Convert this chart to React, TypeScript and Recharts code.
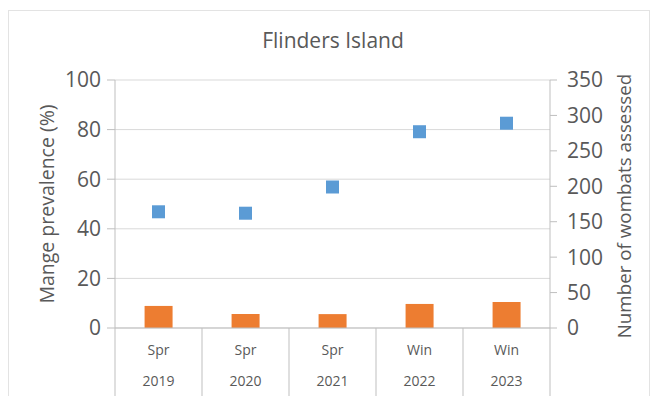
import React from 'react';
import { ComposedChart, Bar, Scatter, XAxis, YAxis, CartesianGrid } from 'recharts';

const seasons = ['Spr', 'Spr', 'Spr', 'Win', 'Win'];
const years = ['2019', '2020', '2021', '2022', '2023'];
const prevalence = [8.9, 5.6, 5.6, 9.7, 10.5];
const assessed = [164, 162, 199, 277, 289];
const leftTicks = [0, 20, 40, 60, 80, 100];
const rightTicks = [0, 50, 100, 150, 200, 250, 300, 350];

const data = years.map((year, i) => ({
  key: `${seasons[i]} ${year}`,
  season: seasons[i],
  year,
  prevalence: prevalence[i],
  assessed: assessed[i],
}));

const FONT = '"Open Sans", "Noto Sans", sans-serif';
const TEXT = '#595959';
const AXIS = '#bfbfbf';

const CategoryTick = (props: any) => {
  const { x, y, payload, index, width, visibleTicksCount } = props;
  const band = width / visibleTicksCount;
  const row = data[index];
  return (
    <g>
      <line x1={x - band / 2} y1={y} x2={x - band / 2} y2={y + 68} stroke={AXIS} />
      {index === visibleTicksCount - 1 && (
        <line x1={x + band / 2} y1={y} x2={x + band / 2} y2={y + 68} stroke={AXIS} />
      )}
      <text x={x} y={y + 27} textAnchor="middle" fill={TEXT} fontSize={14} fontFamily={FONT}>
        {row ? row.season : payload.value}
      </text>
      <text x={x} y={y + 58} textAnchor="middle" fill={TEXT} fontSize={14} fontFamily={FONT}>
        {row ? row.year : ''}
      </text>
    </g>
  );
};

const SquareDot = (props: any) => {
  const { cx, cy } = props;
  const s = 13;
  return <rect x={cx - s / 2} y={cy - s / 2} width={s} height={s} fill="#5b9bd5" />;
};

export default function App() {
  return (
    <div style={{ position: 'absolute', left: 0, top: 0, width: 654, height: 396, background: '#fff' }}>
      <div
        style={{
          position: 'absolute',
          left: 8,
          top: 10,
          width: 642,
          height: 400,
          border: '1px solid #e3e3e3',
          boxSizing: 'border-box',
        }}
      />
      <div style={{ position: 'absolute', left: 0, top: 0 }}>
        <ComposedChart
          width={654}
          height={396}
          data={data}
          margin={{ top: 80, right: 0, bottom: 0, left: 0 }}
          barCategoryGap="34%"
        >
          <CartesianGrid vertical={false} stroke="#d9d9d9" yAxisId="left" />
          <XAxis
            dataKey="key"
            height={68}
            tick={<CategoryTick />}
            tickLine={false}
            tickSize={0}
            tickMargin={0}
            axisLine={{ stroke: AXIS }}
            interval={0}
          />
          <YAxis
            yAxisId="left"
            width={115}
            domain={[0, 100]}
            ticks={leftTicks}
            tickSize={8}
            tickMargin={6}
            tick={{ fill: TEXT, fontSize: 21, fontFamily: FONT }}
            tickLine={{ stroke: AXIS }}
            axisLine={{ stroke: AXIS }}
          />
          <YAxis
            yAxisId="right"
            orientation="right"
            width={104}
            domain={[0, 350]}
            ticks={rightTicks}
            tickSize={7}
            tickMargin={10}
            tick={{ fill: TEXT, fontSize: 21, fontFamily: FONT }}
            tickLine={{ stroke: AXIS }}
            axisLine={{ stroke: AXIS }}
          />
          <Bar yAxisId="left" dataKey="prevalence" fill="#ed7d31" isAnimationActive={false} />
          <Scatter yAxisId="right" dataKey="assessed" shape={<SquareDot />} isAnimationActive={false} />
          <text x={333} y={48} textAnchor="middle" fill={TEXT} fontSize={21} fontFamily={FONT}>
            Flinders Island
          </text>
          <text
            x={46}
            y={204}
            transform="rotate(-90 46 204)"
            textAnchor="middle"
            dominantBaseline="central"
            fill={TEXT}
            fontSize={19.5}
            fontFamily={FONT}
          >
            Mange prevalence (%)
          </text>
          <text
            x={624}
            y={206}
            transform="rotate(-90 624 206)"
            textAnchor="middle"
            dominantBaseline="central"
            fill={TEXT}
            fontSize={18.8}
            fontFamily={FONT}
          >
            Number of wombats assessed
          </text>
        </ComposedChart>
      </div>
    </div>
  );
}
